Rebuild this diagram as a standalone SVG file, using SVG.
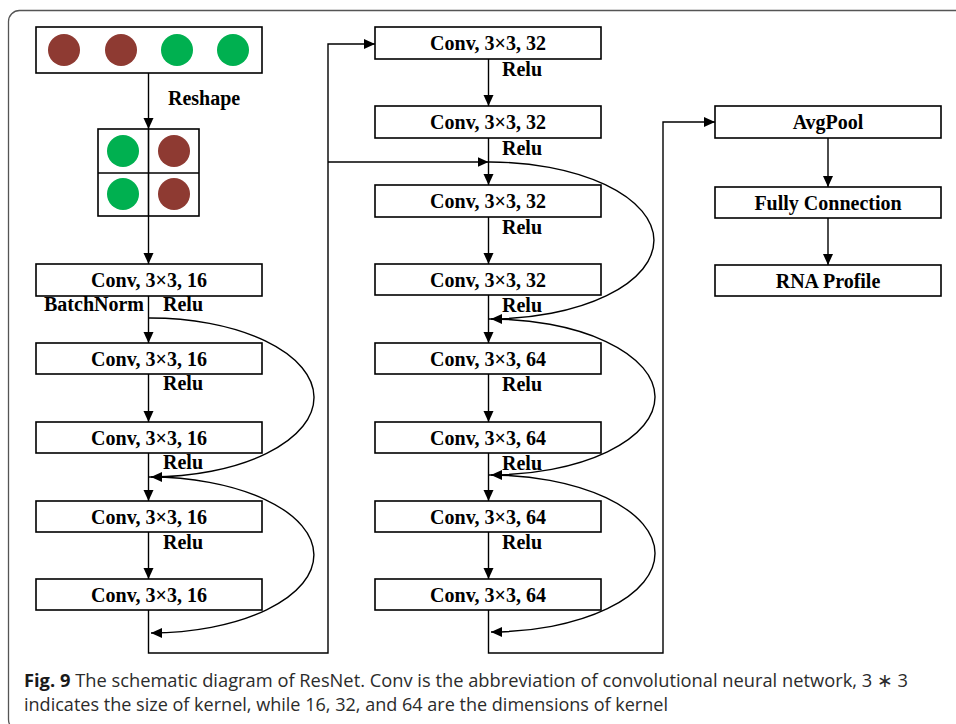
<svg xmlns="http://www.w3.org/2000/svg" width="956" height="724" viewBox="0 0 956 724">
<defs>
<marker id="ah" markerUnits="userSpaceOnUse" markerWidth="12" markerHeight="11" refX="11" refY="5" orient="auto">
<path d="M0,0 L11,5 L0,10 z" fill="#000"/>
</marker>
</defs>
<style>
.box{fill:#fff;stroke:#000;stroke-width:1.6}
.t{font-family:"Liberation Serif","Times New Roman",serif;font-weight:bold;font-size:20px;fill:#000}
.c{text-anchor:middle}
.ln{fill:none;stroke:#000;stroke-width:1.4}
.arr{marker-end:url(#ah)}
.red{fill:#8E3A32}
.grn{fill:#00B050}
.cap{font-family:"Open Sans","Noto Sans",sans-serif;font-size:18.5px;fill:#2b2b2b}
</style>
<rect x="8.5" y="10.5" width="970" height="720" rx="11" fill="#fff" stroke="#555" stroke-width="1.3"/>

<g id="input">
<rect class="box" x="36" y="27" width="226" height="46"/>
<circle class="red" cx="64" cy="50" r="16"/>
<circle class="red" cx="121" cy="50" r="16"/>
<circle class="grn" cx="177" cy="50" r="16"/>
<circle class="grn" cx="233" cy="50" r="16"/>
</g>
<g id="grid">
<rect class="box" x="98" y="129" width="101" height="87"/>
<line x1="148.5" y1="129" x2="148.5" y2="216" stroke="#000" stroke-width="1.6"/>
<line x1="98" y1="173" x2="199" y2="173" stroke="#000" stroke-width="1.6"/>
<circle class="grn" cx="123" cy="151" r="16"/>
<circle class="red" cx="174" cy="151" r="16"/>
<circle class="grn" cx="123" cy="194" r="16"/>
<circle class="red" cx="174" cy="194" r="16"/>
</g>

<g id="connectors">
<path class="ln arr" d="M148.5,73 V129"/>
<path class="ln arr" d="M148.5,216 V264"/>
<path class="ln arr" d="M148.5,296 V343"/>
<path class="ln arr" d="M148.5,374 V422"/>
<path class="ln arr" d="M148.5,453 V501"/>
<path class="ln arr" d="M148.5,532 V579"/>
<path class="ln arr" d="M148.5,610 V653 H328 V44 H375"/>
<path class="ln arr" d="M328,162 H488.5"/>
<path class="ln arr" d="M488.5,59 V106"/>
<path class="ln arr" d="M488.5,138 V185"/>
<path class="ln arr" d="M488.5,217 V264"/>
<path class="ln arr" d="M488.5,295 V343"/>
<path class="ln arr" d="M488.5,374 V422"/>
<path class="ln arr" d="M488.5,453 V501"/>
<path class="ln arr" d="M488.5,532 V579"/>
<path class="ln arr" d="M488.5,610 V653 H663 V122 H715"/>
<path class="ln arr" d="M828,138 V187"/>
<path class="ln arr" d="M828,218 V265"/>
<path class="ln arr" d="M149,318 A164 79.5 0 0 1 151,477"/>
<path class="ln arr" d="M149,477 A164 78 0 0 1 151,633"/>
<path class="ln arr" d="M489,162 A164 78.5 0 0 1 491,319"/>
<path class="ln arr" d="M489,319 A165 78 0 0 1 491,475"/>
<path class="ln arr" d="M489,475 A165 78.5 0 0 1 491,632"/>
</g>

<text class="t" x="168" y="105">Reshape</text>
<text class="t" x="44" y="311">BatchNorm</text>
<text class="t" x="163" y="311">Relu</text>
<text class="t" x="163" y="390">Relu</text>
<text class="t" x="163" y="469">Relu</text>
<text class="t" x="163" y="549">Relu</text>

<text class="t" x="502" y="76">Relu</text>
<text class="t" x="502" y="155">Relu</text>
<text class="t" x="502" y="234">Relu</text>
<text class="t" x="502" y="312">Relu</text>
<text class="t" x="502" y="391">Relu</text>
<text class="t" x="502" y="470">Relu</text>
<text class="t" x="502" y="549">Relu</text>

<g id="c1_1"><rect class="box" x="36" y="264" width="226" height="32"/><text class="t c" x="149" y="287">Conv, 3×3, 16</text></g>
<g id="c1_2"><rect class="box" x="36" y="343" width="226" height="31"/><text class="t c" x="149" y="365.5">Conv, 3×3, 16</text></g>
<g id="c1_3"><rect class="box" x="36" y="422" width="226" height="31"/><text class="t c" x="149" y="444.5">Conv, 3×3, 16</text></g>
<g id="c1_4"><rect class="box" x="36" y="501" width="226" height="31"/><text class="t c" x="149" y="523.5">Conv, 3×3, 16</text></g>
<g id="c1_5"><rect class="box" x="36" y="579" width="226" height="31"/><text class="t c" x="149" y="601.5">Conv, 3×3, 16</text></g>

<g id="c2_1"><rect class="box" x="375" y="27" width="226" height="32"/><text class="t c" x="488" y="50">Conv, 3×3, 32</text></g>
<g id="c2_2"><rect class="box" x="375" y="106" width="226" height="32"/><text class="t c" x="488" y="129">Conv, 3×3, 32</text></g>
<g id="c2_3"><rect class="box" x="375" y="185" width="226" height="32"/><text class="t c" x="488" y="208">Conv, 3×3, 32</text></g>
<g id="c2_4"><rect class="box" x="375" y="264" width="226" height="31"/><text class="t c" x="488" y="286.5">Conv, 3×3, 32</text></g>
<g id="c2_5"><rect class="box" x="375" y="343" width="226" height="31"/><text class="t c" x="488" y="365.5">Conv, 3×3, 64</text></g>
<g id="c2_6"><rect class="box" x="375" y="422" width="226" height="31"/><text class="t c" x="488" y="444.5">Conv, 3×3, 64</text></g>
<g id="c2_7"><rect class="box" x="375" y="501" width="226" height="31"/><text class="t c" x="488" y="523.5">Conv, 3×3, 64</text></g>
<g id="c2_8"><rect class="box" x="375" y="579" width="226" height="31"/><text class="t c" x="488" y="601.5">Conv, 3×3, 64</text></g>

<g id="avgpool"><rect class="box" x="715" y="106" width="226" height="32"/><text class="t c" x="828" y="129">AvgPool</text></g>
<g id="fc"><rect class="box" x="715" y="187" width="226" height="31"/><text class="t c" x="828" y="209.5">Fully Connection</text></g>
<g id="rna"><rect class="box" x="715" y="265" width="226" height="31"/><text class="t c" x="828" y="287.5">RNA Profile</text></g>

<text class="cap" x="24" y="687" textLength="884" lengthAdjust="spacingAndGlyphs"><tspan font-weight="bold" fill="#1a1a1a">Fig. 9</tspan>  The schematic diagram of ResNet. Conv is the abbreviation of convolutional neural network, 3 ∗ 3</text>
<text class="cap" x="24" y="711" textLength="644" lengthAdjust="spacingAndGlyphs">indicates the size of kernel, while 16, 32, and 64 are the dimensions of kernel</text>
</svg>
